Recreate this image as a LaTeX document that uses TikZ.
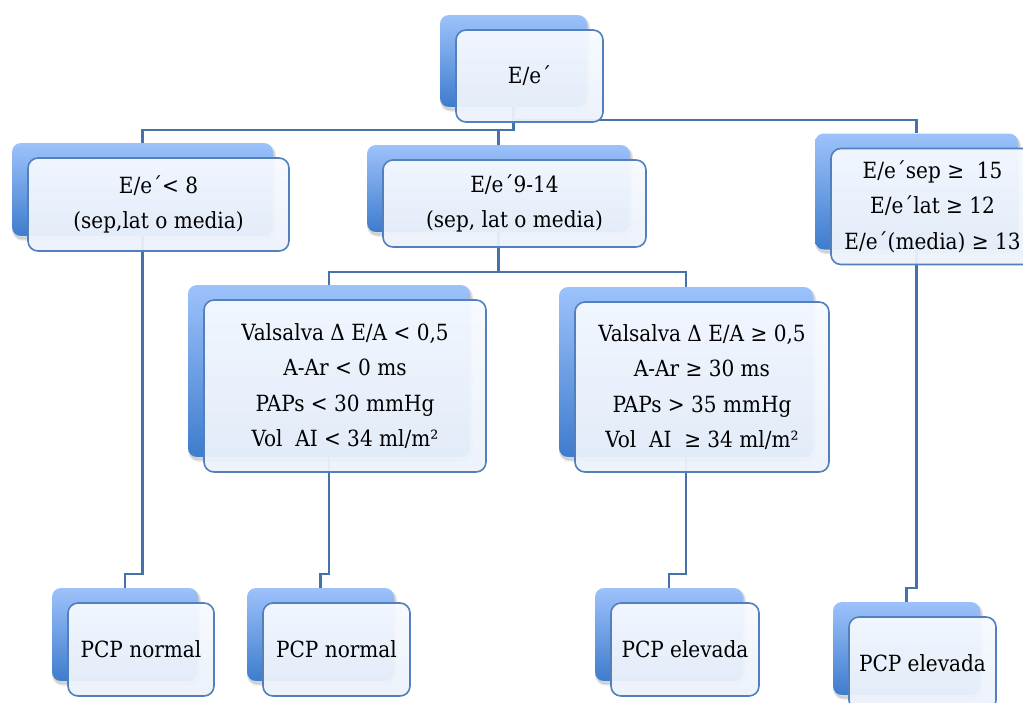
\documentclass[tikz,border=0pt]{standalone}
\usepackage{fontspec}
\setmainfont{DejaVu Serif Condensed}
\pgfdeclarelayer{paper}
\pgfdeclarelayer{wires}
\pgfsetlayers{paper,wires,main}

\definecolor{backtop}{RGB}{157,194,251}
\definecolor{backbot}{RGB}{62,124,205}
\definecolor{facetop}{RGB}{247,250,255}
\definecolor{facebot}{RGB}{236,242,251}
\definecolor{edgeblue}{RGB}{82,128,188}
\definecolor{wireblue}{RGB}{70,114,172}

\tikzset{
  softshade/.style={preaction={draw=black, fill=black, draw opacity=#1, fill opacity=#1,
    line width=3pt, transform canvas={xshift=1.5pt, yshift=-3pt}}},
  backcard/.style={rectangle, rounded corners=9pt, inner sep=0pt,
    softshade=0.05, softshade=0.06,
    top color=backtop, bottom color=backbot, draw=none},
  facecard/.style={rectangle, rounded corners=10pt, inner sep=0pt,
    top color=facetop, bottom color=facebot, fill opacity=0.94, text opacity=1,
    draw=edgeblue, line width=1.6pt, align=center,
    font=\fontsize{22.3}{35.5}\selectfont},
  wire/.style={draw=wireblue, line width=2.1pt},
}

% #1 name, #2,#3 centre of the back card, #4 width, #5 height, #6 text
\newcommand\cardpair[6]{%
  \node[backcard, minimum width=#4pt, minimum height=#5pt] (#1s) at (#2,#3) {};
  \node[facecard, minimum width=#4pt, minimum height=#5pt] (#1)
    at ([xshift=16pt,yshift=-15pt]#1s.center) {#6};
}

\begin{document}
\begin{tikzpicture}[x=1pt,y=-1pt]
\useasboundingbox (0,0) rectangle (1023,702);
\begin{pgfonlayer}{paper}
  \fill[white] (0,0) rectangle (1023,702);
\end{pgfonlayer}

\cardpair{root}{513.5}{61}{147}{92}{E/e´}
\cardpair{left}{142.5}{189.5}{261}{93}{E/e´< 8\\(sep,lat o media)}
\cardpair{mid}{498.5}{188.5}{263}{87}{E/e´9-14\\(sep, lat o media)}
\cardpair{right}{916.5}{191.5}{203}{116}{E/e´sep ≥ \ 15\\E/e´lat ≥ 12\\E/e´(media) ≥ 13}
\cardpair{vone}{329}{371}{282}{172}{Valsalva Δ E/A < 0,5\\A-Ar < 0 ms\\PAPs < 30 mmHg\\Vol \ AI < 34 ml/m²}
\cardpair{vtwo}{686}{372}{254}{170}{Valsalva Δ E/A ≥ 0,5\\A-Ar ≥ 30 ms\\PAPs > 35 mmHg\\Vol \ AI \ ≥ 34 ml/m²}
\cardpair{bone}{125}{634.5}{146}{93}{PCP normal}
\cardpair{btwo}{320.5}{634.5}{147}{93}{PCP normal}
\cardpair{bthree}{669}{634.5}{148}{93}{PCP elevada}
\cardpair{bfour}{906.5}{648.5}{147}{93}{PCP elevada}

\coordinate (tierR) at (0,120);
\coordinate (tierA) at (0,130);
\coordinate (tierB) at (0,272);
\coordinate (tierC) at (0,574);
\coordinate (tierD) at (0,588);

\begin{pgfonlayer}{wires}
  \draw[wire] (roots.center) -- (roots.center |- tierA) -| (lefts.north);
  \draw[wire] (mids.north) -- (mids.north |- tierA);
  \draw[wire] (roots.center) -- (roots.center |- tierR) -| (rights.north);
  \draw[wire] (mids.center) -- (mids.center |- tierB) -| (vones.north);
  \draw[wire] (mids.center) -- (mids.center |- tierB) -| (vtwos.north);
  \draw[wire] (lefts.center) -- (lefts.center |- tierC) -| (bones.north);
  \draw[wire] (vones.center) -- (vones.center |- tierC) -| (btwos.north);
  \draw[wire] (vtwos.center) -- (vtwos.center |- tierC) -| (bthrees.north);
  \draw[wire] (rights.center) -- (rights.center |- tierD) -| (bfours.north);
\end{pgfonlayer}
\end{tikzpicture}
\end{document}
